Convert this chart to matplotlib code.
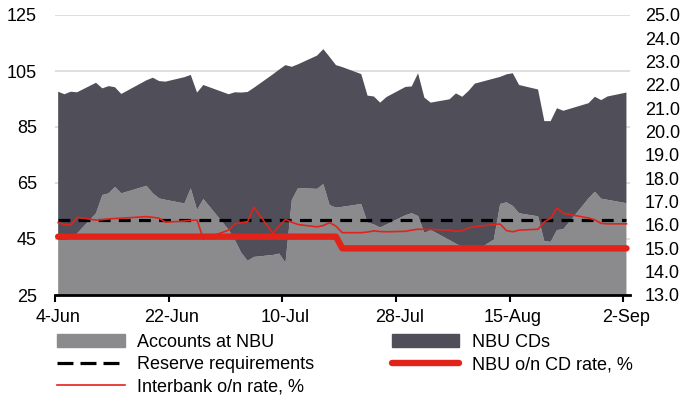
import numpy as np
import pandas as pd
import matplotlib
matplotlib.use('Agg')
import matplotlib.pyplot as plt
from matplotlib.patches import Patch
from matplotlib.lines import Line2D

plt.rcParams['font.family'] = ['Liberation Sans', 'DejaVu Sans']

# Business days (UAH bn for balances, % for rates)
dates = pd.bdate_range('2019-06-04', '2019-09-02', freq='C',
                       holidays=['2019-06-17', '2019-06-28', '2019-08-26'])

accounts = [44.8, 44.4, 45.6, 47.0, 54.2, 60.7, 61.3, 63.6, 61.3, 64.0, 61.3, 59.5, 59.0,
            57.7, 63.1, 55.4, 59.3,
            48.3, 44.6, 40.1, 37.2, 38.6, 39.3, 39.8, 36.5, 58.9, 63.2, 62.9, 64.6, 57.1,
            56.2, 56.5, 57.5, 50.9, 50.2, 49.1, 50.2, 53.5, 54.2, 53.2,
            47.2, 48.2, 44.6, 43.3, 42.3, 41.4, 40.5, 44.8, 57.5, 58.1, 56.8, 54.2, 53.1,
            44.2, 44.0, 48.2, 48.5, 59.5, 61.9, 59.4, 59.0,
            57.8]
nbu_cds = [52.8, 52.3, 52.0, 50.4, 46.6, 38.1, 38.3, 35.6, 35.5, 37.7, 41.3, 41.9, 42.2,
           45.1, 40.5, 41.9, 40.7,
           48.4, 52.8, 57.2, 60.3, 60.4, 64.5, 65.7, 70.6, 47.6, 44.2, 47.6, 48.2, 52.9,
           50.9, 49.9, 46.4, 45.3, 45.7, 44.6, 45.5, 45.8, 45.3, 51.0,
           48.3, 45.5, 50.3, 53.7, 53.5, 56.5, 60.0, 57.5, 45.4, 45.7, 47.4, 45.8, 45.3,
           42.9, 43.1, 43.5, 42.3, 34.0, 33.9, 35.2, 36.9,
           39.5]
interbank = [16.10, 16.02, 16.00, 16.33, 16.21, 16.23, 16.26, 16.28, 16.29, 16.36, 16.33,
             16.29, 16.12, 16.17, 16.20, 16.21, 15.39,
             15.78, 16.05, 16.10, 16.14, 16.76, 15.64, 15.95, 16.24, 16.12, 16.02, 15.92,
             15.98, 16.10, 15.95, 15.67, 15.67, 15.70, 15.75, 15.72, 15.71, 15.73, 15.78,
             15.82,
             15.81, 15.81, 15.78, 15.73, 15.75, 15.88, 15.93, 16.02, 16.04, 15.76, 15.71,
             15.78, 15.82, 16.14, 16.29, 16.73, 16.50, 16.30, 16.22, 16.07, 16.05,
             16.05]
cd_rate = [15.5] * 31 + [15.0] * 31
reserve_req = 51.7

tick_dates = pd.date_range('2019-06-04', periods=6, freq='18D')

light = '#8b8b8d'
dark = '#4f4e59'
red = '#e2231a'
fs = 13

fig = plt.figure(figsize=(6.86, 3.96), dpi=100)
ax = fig.add_axes([55 / 686, 1 - 295 / 396, 574.6 / 686, 280 / 396])
ax2 = ax.twinx()

# points sit in the middle of each day
x = dates + pd.Timedelta(hours=12)

ax.stackplot(x, accounts, nbu_cds, colors=[light, dark], linewidth=0)
ax.plot(x, [reserve_req] * len(x), color='black', lw=2.3, dashes=(3.7, 2.6))
ax2.plot(x, interbank, color=red, lw=1.2)
ax2.plot(x, cd_rate, color=red, lw=4.6, solid_capstyle='round')

ax.set_ylim(25, 125)
ax.set_yticks(range(25, 126, 20))
ax2.set_ylim(13, 25)
ax2.set_yticks(np.arange(13, 25.5, 1))
ax2.yaxis.set_major_formatter(matplotlib.ticker.FormatStrFormatter('%.1f'))

ax.set_xlim(pd.Timestamp('2019-06-04'), pd.Timestamp('2019-09-03'))
ax.set_xticks(tick_dates)
ax.set_xticklabels([])
ax.set_xticks(tick_dates + pd.Timedelta(hours=12), minor=True)
ax.set_xticklabels([f'{d.day}-{d.strftime("%b")}' for d in tick_dates], minor=True)

ax.set_axisbelow(True)
ax.yaxis.grid(True, color='#d9d9d9', lw=1.2)

for a in (ax, ax2):
    for s in ('left', 'right', 'top'):
        a.spines[s].set_visible(False)
ax2.spines['bottom'].set_visible(False)
ax.spines['bottom'].set_linewidth(2)

ax.tick_params(axis='y', length=0, pad=13, labelsize=fs)
ax2.tick_params(axis='y', length=0, pad=11, labelsize=fs)
ax.tick_params(axis='x', which='major', length=5, width=1.5, direction='out')
ax.tick_params(axis='x', which='minor', length=0, pad=10, labelsize=fs)

handles = [Patch(color=light), Line2D([], [], color='black', lw=2.3, dashes=(5, 2.2)),
           Line2D([], [], color=red, lw=1.2), Patch(color=dark),
           Line2D([], [], color=red, lw=4.6, solid_capstyle='round')]
labels = ['Accounts at NBU', 'Reserve requirements', 'Interbank o/n rate, %',
          'NBU CDs', 'NBU o/n CD rate, %']
fig.legend(handles, labels, ncol=2, loc='upper left', bbox_to_anchor=(57 / 686, 1 - 334 / 396),
           frameon=False, fontsize=fs, handlelength=3.75, handletextpad=0.68,
           columnspacing=4.3, labelspacing=0.28, borderpad=0, borderaxespad=0)

fig.savefig('out.png', dpi=100)
